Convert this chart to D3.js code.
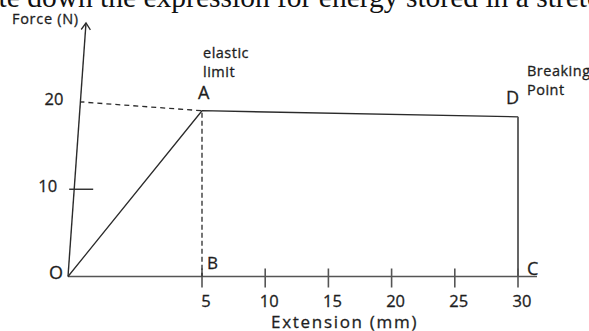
<!DOCTYPE html>
<html>
<head>
<meta charset="utf-8">
<script src="https://cdn.jsdelivr.net/npm/d3@7"></script>
<style>
  body { margin: 0; background: #fff; }
  svg { display: block; }
</style>
</head>
<body>
<script>
// Force–extension sketch of a wire stretched to breaking point
const extension = [0, 5, 30, 30];          // mm
const force = [0, 19.0, 18.3, 0];          // N
const pointLabels = ["O", "A", "D", "C"];
const footLabel = "B";                      // foot of the elastic-limit drop line
const xTickValues = [5, 10, 15, 20, 25, 30];
const yTickValues = [10, 20];
const questionText = "Write down the expression for energy stored in a stretched wire.";

const W = 589, H = 331;
const ink = "#2b2b2b";
const sans = "'Open Sans', 'Noto Sans', sans-serif";

const svg = d3.select("body").append("svg")
  .attr("width", W).attr("height", H);

// the first 5 mm are drawn wider than the rest (sketch is not to scale)
const x = d3.scaleLinear().domain([0, 5, 30]).range([68, 202, 518]);
const y = d3.scaleLinear().domain([0, 20]).range([276.5, 102]);

// the force axis leans to the right as it rises
const lean = 0.071;
const axisTop = 23;
const axisX = v => x(0) + (y(0) - y(v)) * lean;
const axisXpx = py => x(0) + (y(0) - py) * lean;

// question line running off the top of the page
const q = svg.append("text")
  .attr("y", 7)
  .attr("font-family", "'Liberation Serif', 'Times New Roman', serif")
  .attr("font-size", 29.5)
  .attr("fill", "#111")
  .text(questionText);
const lead = q.node().getSubStringLength(0, 3);
q.attr("x", -lead - 1.5);

const g = svg.append("g").attr("fill", "none").attr("stroke-linecap", "butt");

// extension axis
g.append("line")
  .attr("x1", x(0)).attr("x2", x(30) + 19)
  .attr("y1", y(0)).attr("y2", y(0))
  .attr("stroke", "#555").attr("stroke-width", 1.7);

g.selectAll("line.xtick").data(xTickValues).join("line")
  .attr("class", "xtick")
  .attr("x1", d => x(d)).attr("x2", d => x(d))
  .attr("y1", y(0) - 8).attr("y2", y(0) + 11)
  .attr("stroke", "#555").attr("stroke-width", 1.6);

// force axis with open arrowhead
const tipX = axisXpx(axisTop);
g.append("line")
  .attr("x1", x(0)).attr("y1", y(0))
  .attr("x2", tipX).attr("y2", axisTop)
  .attr("stroke", ink).attr("stroke-width", 1.4);
g.append("path")
  .attr("d", `M${tipX - 4.8},${axisTop + 6.5}L${tipX},${axisTop}L${tipX + 4.4},${axisTop + 6.8}`)
  .attr("stroke", ink).attr("stroke-width", 1.3);

// force ticks: 10 crosses the axis, 20 is a short stub
g.append("line")
  .attr("x1", axisX(10) - 5).attr("x2", axisX(10) + 19)
  .attr("y1", y(10)).attr("y2", y(10))
  .attr("stroke", ink).attr("stroke-width", 1.4);
g.append("line")
  .attr("x1", axisX(20)).attr("x2", axisX(20) + 4)
  .attr("y1", y(20)).attr("y2", y(20))
  .attr("stroke", ink).attr("stroke-width", 1.4);

// dashed guides to the elastic limit
g.append("line")
  .attr("x1", axisX(20) + 8).attr("y1", y(20) + 0.5)
  .attr("x2", x(extension[1])).attr("y2", y(force[1]))
  .attr("stroke", ink).attr("stroke-width", 1.3)
  .attr("stroke-dasharray", "5,4");
g.append("line")
  .attr("x1", x(extension[1])).attr("y1", y(force[1]) + 2)
  .attr("x2", x(extension[1])).attr("y2", y(0))
  .attr("stroke", ink).attr("stroke-width", 1.3)
  .attr("stroke-dasharray", "5,3");

// the curve O → A → D → C
const pts = extension.map((e, i) => [e, force[i]]);
const line = d3.line().x(d => x(d[0])).y(d => y(d[1]));
g.append("path")
  .attr("d", line(pts.slice(0, 3)))
  .attr("stroke", ink).attr("stroke-width", 1.3)
  .attr("stroke-linejoin", "round");
g.append("path")
  .attr("d", line(pts.slice(2)))
  .attr("stroke", "#555").attr("stroke-width", 1.8);

// text (a hairline stroke gives the slightly heavy print look)
const t = svg.append("g")
  .attr("font-family", sans)
  .attr("fill", "#1e1e1e")
  .attr("stroke", "#1e1e1e")
  .attr("stroke-width", 0.3);

t.selectAll("text.xl").data(xTickValues).join("text")
  .attr("class", "xl")
  .attr("x", d => x(d) + 4).attr("y", 307)
  .attr("text-anchor", "middle")
  .attr("font-size", 16.5)
  .text(d => d);

t.selectAll("text.yl").data(yTickValues).join("text")
  .attr("class", "yl")
  .attr("x", d => axisX(d) - 17).attr("y", d => y(d) + 3)
  .attr("text-anchor", "end")
  .attr("font-size", 16.5)
  .text(d => d);

t.append("text").attr("x", 12).attr("y", 23.5)
  .attr("font-size", 14.5).attr("letter-spacing", 0.7)
  .text("Force (N)");

t.append("text").attr("x", 271).attr("y", 328)
  .attr("font-size", 17).attr("letter-spacing", 1.7)
  .text("Extension (mm)");

// point letters
const letterPos = [
  { dx: -5, dy: 2, anchor: "end" },    // O
  { dx: -4, dy: -12, anchor: "start" }, // A
  { dx: 1, dy: -13, anchor: "end" },    // D
  { dx: 9, dy: -1.5, anchor: "start" }  // C
];
t.selectAll("text.pt").data(pts).join("text")
  .attr("class", "pt")
  .attr("x", (d, i) => x(d[0]) + letterPos[i].dx)
  .attr("y", (d, i) => y(d[1]) + letterPos[i].dy)
  .attr("text-anchor", (d, i) => letterPos[i].anchor)
  .attr("font-size", 18)
  .text((d, i) => pointLabels[i]);

t.append("text")
  .attr("x", x(extension[1]) + 5).attr("y", y(0) - 7.5)
  .attr("font-size", 17)
  .text(footLabel);

// annotations
const note = (lines, x0, y0, gap) => {
  const el = t.append("text").attr("font-size", 14.5).attr("letter-spacing", 0.5);
  lines.forEach((s, i) => el.append("tspan").attr("x", x0).attr("y", y0 + i * gap).text(s));
};
note(["elastic", "limit"], x(extension[1]) + 1, 58, 18.5);
note(["Breaking", "Point"], x(30) + 9, 76, 19);
</script>
</body>
</html>
